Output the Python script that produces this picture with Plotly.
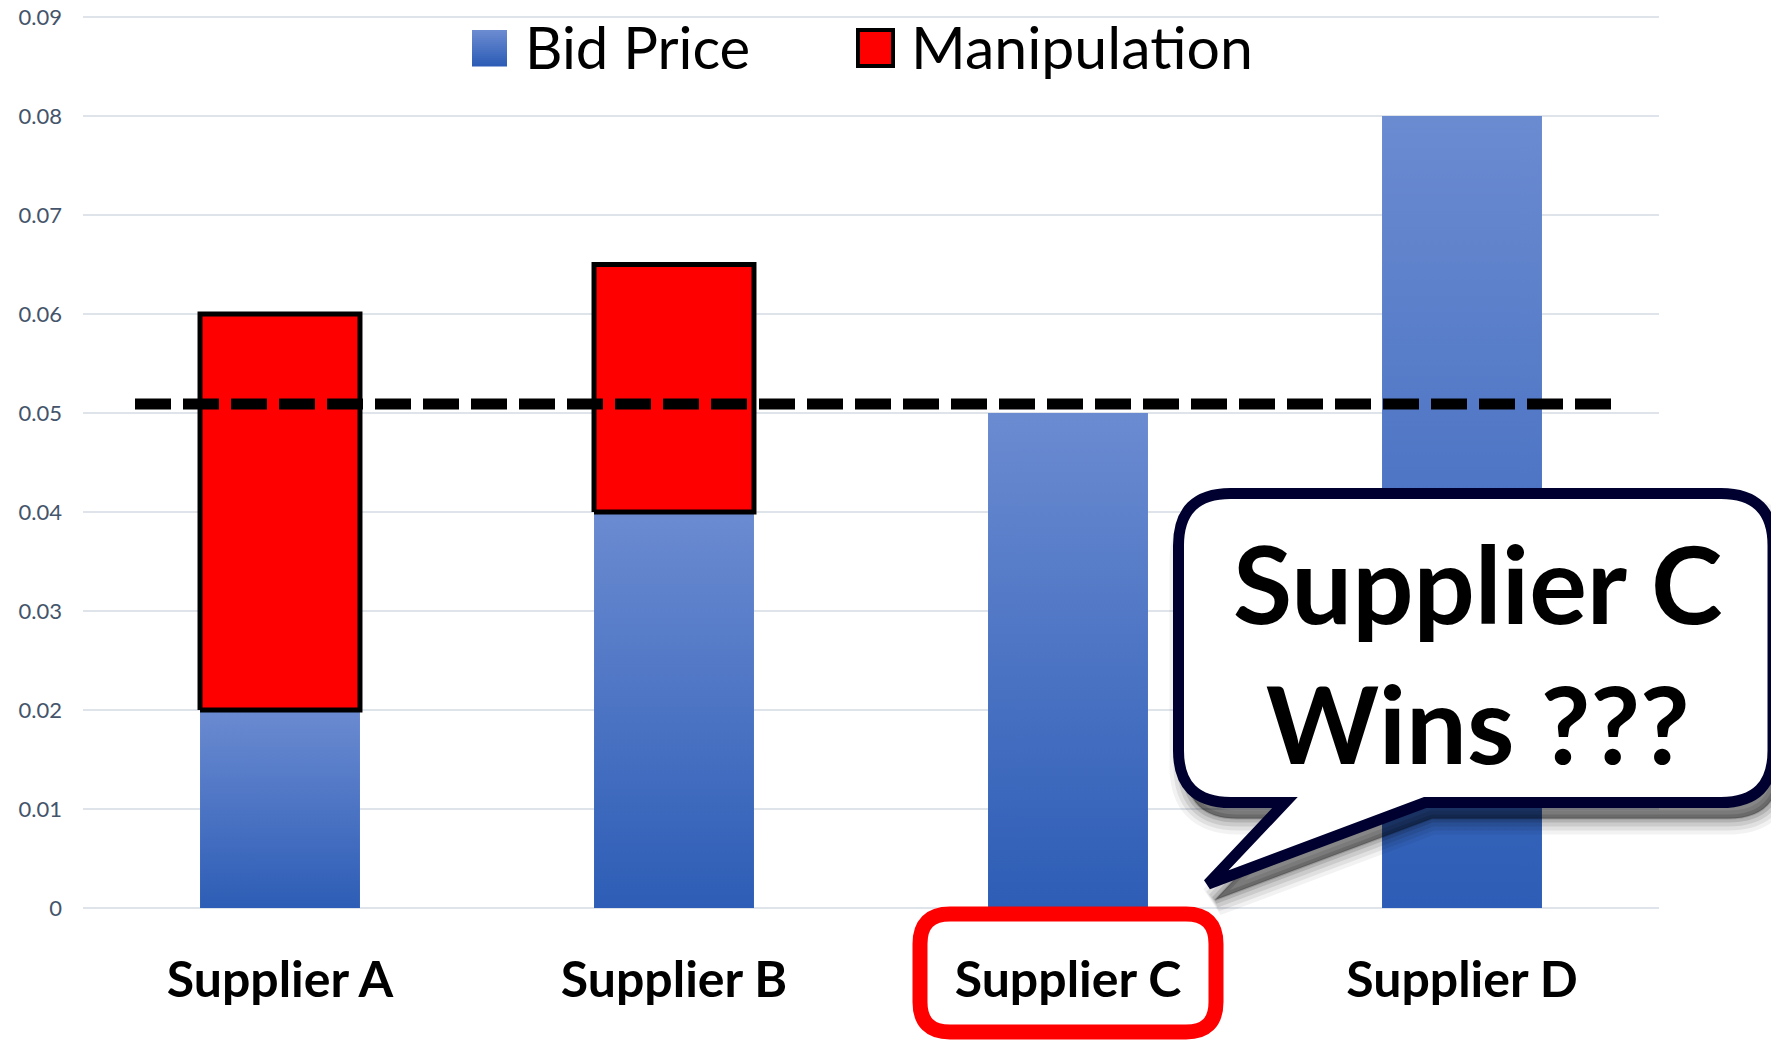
import plotly.graph_objects as go

# ---------------- data ----------------
categories = ["Supplier A", "Supplier B", "Supplier C", "Supplier D"]
bid_price = [0.02, 0.04, 0.05, 0.08]
manipulation = [0.04, 0.025, 0.0, 0.0]
threshold = 0.0509
y_ticks = [0, 0.01, 0.02, 0.03, 0.04, 0.05, 0.06, 0.07, 0.08, 0.09]
y_tick_labels = ["0", "0.01", "0.02", "0.03", "0.04", "0.05", "0.06", "0.07", "0.08", "0.09"]
series_names = ["Bid Price", "Manipulation"]
callout_lines = ["Supplier C", "Wins ???"]
highlight_category = "Supplier C"

# ---------------- layout geometry ----------------
W, H = 1779, 1040
OFF = 8  # page body offset of the figure inside the window
Y_MIN, Y_MAX = -0.0002, 0.0902
ML, MR, MT, MB = 75, 128, 7, 138
PW = W - ML - MR
PH = H - MT - MB


def px(x):
    """window pixel x -> paper x"""
    return (x - OFF - ML) / PW


def py(y):
    """window pixel y -> paper y"""
    return (H - MB - (y - OFF)) / PH


BAR_W = 0.406
BLUE_TOP = "#6b8bd1"
BLUE_BOT = "#2d5db6"
RED = "#ff0000"
FONT = "Lato"

fig = go.Figure()

# blue bid-price bars with vertical gradient
for i, v in enumerate(bid_price):
    x0, x1 = i - BAR_W / 2, i + BAR_W / 2
    fig.add_trace(go.Scatter(
        x=[x0, x1, x1, x0, x0], y=[0, 0, v, v, 0],
        mode="lines", line=dict(width=0, color=BLUE_BOT),
        fill="toself",
        fillgradient=dict(type="vertical",
                          colorscale=[[0, BLUE_BOT], [1, BLUE_TOP]],
                          start=0, stop=v),
        name=series_names[0], showlegend=False, hoverinfo="skip"))

# red manipulation bars
for i, (b, m) in enumerate(zip(bid_price, manipulation)):
    if m <= 0:
        continue
    x0, x1 = i - BAR_W / 2, i + BAR_W / 2
    fig.add_trace(go.Scatter(
        x=[x0, x1, x1, x0, x0], y=[b, b, b + m, b + m, b],
        mode="lines", line=dict(width=5, color="black"),
        fill="toself", fillcolor=RED,
        name=series_names[1], showlegend=False, hoverinfo="skip"))

shapes = []

# dashed threshold line
shapes.append(dict(type="line", xref="paper", yref="y",
                   x0=px(135), x1=px(1611), y0=threshold, y1=threshold,
                   line=dict(color="black", width=11, dash="36px,12px"),
                   layer="above"))


def P(x, y):
    return f"{px(x):.5f},{py(y):.5f}"


def bubble_path(L, T, R, B, r, tail, dx=0, dy=0):
    L, R = L + dx, R + dx
    T, B = T + dy, B + dy
    (bx1, tx, ty, bx2) = tail
    bx1, bx2, tx, ty = bx1 + dx, bx2 + dx, tx + dx, ty + dy
    cmds = [
        "M " + P(L + r, T), "L " + P(R - r, T),
        "Q " + P(R, T) + " " + P(R, T + r),
        "L " + P(R, B - r),
        "Q " + P(R, B) + " " + P(R - r, B),
        "L " + P(bx2, B), "L " + P(tx, ty), "L " + P(bx1, B),
        "L " + P(L + r, B),
        "Q " + P(L, B) + " " + P(L, B - r),
        "L " + P(L, T + r),
        "Q " + P(L, T) + " " + P(L + r, T), "Z"]
    return " ".join(cmds)


def rrect_path(L, T, R, B, r):
    cmds = [
        "M " + P(L + r, T), "L " + P(R - r, T),
        "Q " + P(R, T) + " " + P(R, T + r),
        "L " + P(R, B - r),
        "Q " + P(R, B) + " " + P(R - r, B),
        "L " + P(L + r, B),
        "Q " + P(L, B) + " " + P(L, B - r),
        "L " + P(L, T + r),
        "Q " + P(L, T) + " " + P(L + r, T), "Z"]
    return " ".join(cmds)


BL, BT, BR, BB, BRAD = 1178.5, 493.5, 1773, 802.5, 52
TAIL = (1285, 1208, 884, 1425)

# soft drop shadow
for w, a in [(32, 0.05), (24, 0.07), (16, 0.09), (8, 0.12), (2, 0.14)]:
    shapes.append(dict(type="path", xref="paper", yref="paper",
                       path=bubble_path(BL, BT, BR, BB, BRAD, TAIL, dx=7, dy=16),
                       fillcolor=f"rgba(0,0,0,{a})",
                       line=dict(color=f"rgba(0,0,0,{a})", width=w),
                       layer="above"))
# bubble
shapes.append(dict(type="path", xref="paper", yref="paper",
                   path=bubble_path(BL, BT, BR, BB, BRAD, TAIL),
                   fillcolor="white", line=dict(color="#000030", width=11),
                   layer="above"))

# red highlight box around category label
hi = categories.index(highlight_category)
cx_px = OFF + ML + (hi + 0.5) / len(categories) * PW
shapes.append(dict(type="path", xref="paper", yref="paper",
                   path=rrect_path(cx_px - 148, 914, cx_px + 148, 1032, 30),
                   fillcolor="rgba(0,0,0,0)", line=dict(color=RED, width=15),
                   layer="above"))

# legend swatches
n = 18
top, bot = 30, 66


def lerp(c1, c2, t):
    a = [int(c1[k:k + 2], 16) for k in (1, 3, 5)]
    b = [int(c2[k:k + 2], 16) for k in (1, 3, 5)]
    return "rgb(%d,%d,%d)" % tuple(round(a[j] + (b[j] - a[j]) * t) for j in range(3))


for k in range(n):
    y0 = top + (bot - top) * k / n
    y1 = top + (bot - top) * (k + 1) / n + 0.5
    shapes.append(dict(type="rect", xref="paper", yref="paper",
                       x0=px(472), x1=px(507), y0=py(y1), y1=py(y0),
                       fillcolor=lerp(BLUE_TOP, BLUE_BOT, k / (n - 1)),
                       line=dict(width=0), layer="above"))
shapes.append(dict(type="rect", xref="paper", yref="paper",
                   x0=px(858), x1=px(893), y0=py(66), y1=py(30),
                   fillcolor=RED, line=dict(color="black", width=4),
                   layer="above"))

annotations = [
    dict(text=series_names[0], xref="paper", yref="paper", x=px(523), y=py(47),
         xanchor="left", yanchor="middle", showarrow=False,
         font=dict(family=FONT, size=58, color="black")),
    dict(text=series_names[1], xref="paper", yref="paper", x=px(909), y=py(47),
         xanchor="left", yanchor="middle", showarrow=False,
         font=dict(family=FONT, size=59, color="black")),
    dict(text="<br>".join(callout_lines), xref="paper", yref="paper",
         x=px(1478), y=py(652), xanchor="center", yanchor="middle",
         showarrow=False, align="center",
         font=dict(family=FONT, size=108, color="black", weight="bold")),
]

fig.update_layout(
    width=W, height=H,
    margin=dict(l=ML, r=MR, t=MT, b=MB, pad=0, autoexpand=False),
    paper_bgcolor="white", plot_bgcolor="white",
    showlegend=False,
    shapes=shapes, annotations=annotations,
    xaxis=dict(range=[-0.5, 3.5], tickmode="array", automargin=False,
               tickvals=list(range(len(categories))), ticktext=categories,
               showgrid=False, zeroline=False, showline=False, ticks="",
               ticklabelstandoff=36,
               tickfont=dict(family=FONT, size=50, color="black", weight="bold")),
    yaxis=dict(range=[Y_MIN, Y_MAX], tickmode="array", tickvals=y_ticks, automargin=False,
               ticktext=y_tick_labels, showgrid=True, gridcolor="#dfe3ea",
               gridwidth=2, zeroline=False, showline=False, ticks="",
               ticklabelstandoff=20, ticklabeloverflow="allow",
               tickfont=dict(family=FONT, size=22, color="#44546a")),
)

fig.write_html("out.html", config={"displayModeBar": False})
